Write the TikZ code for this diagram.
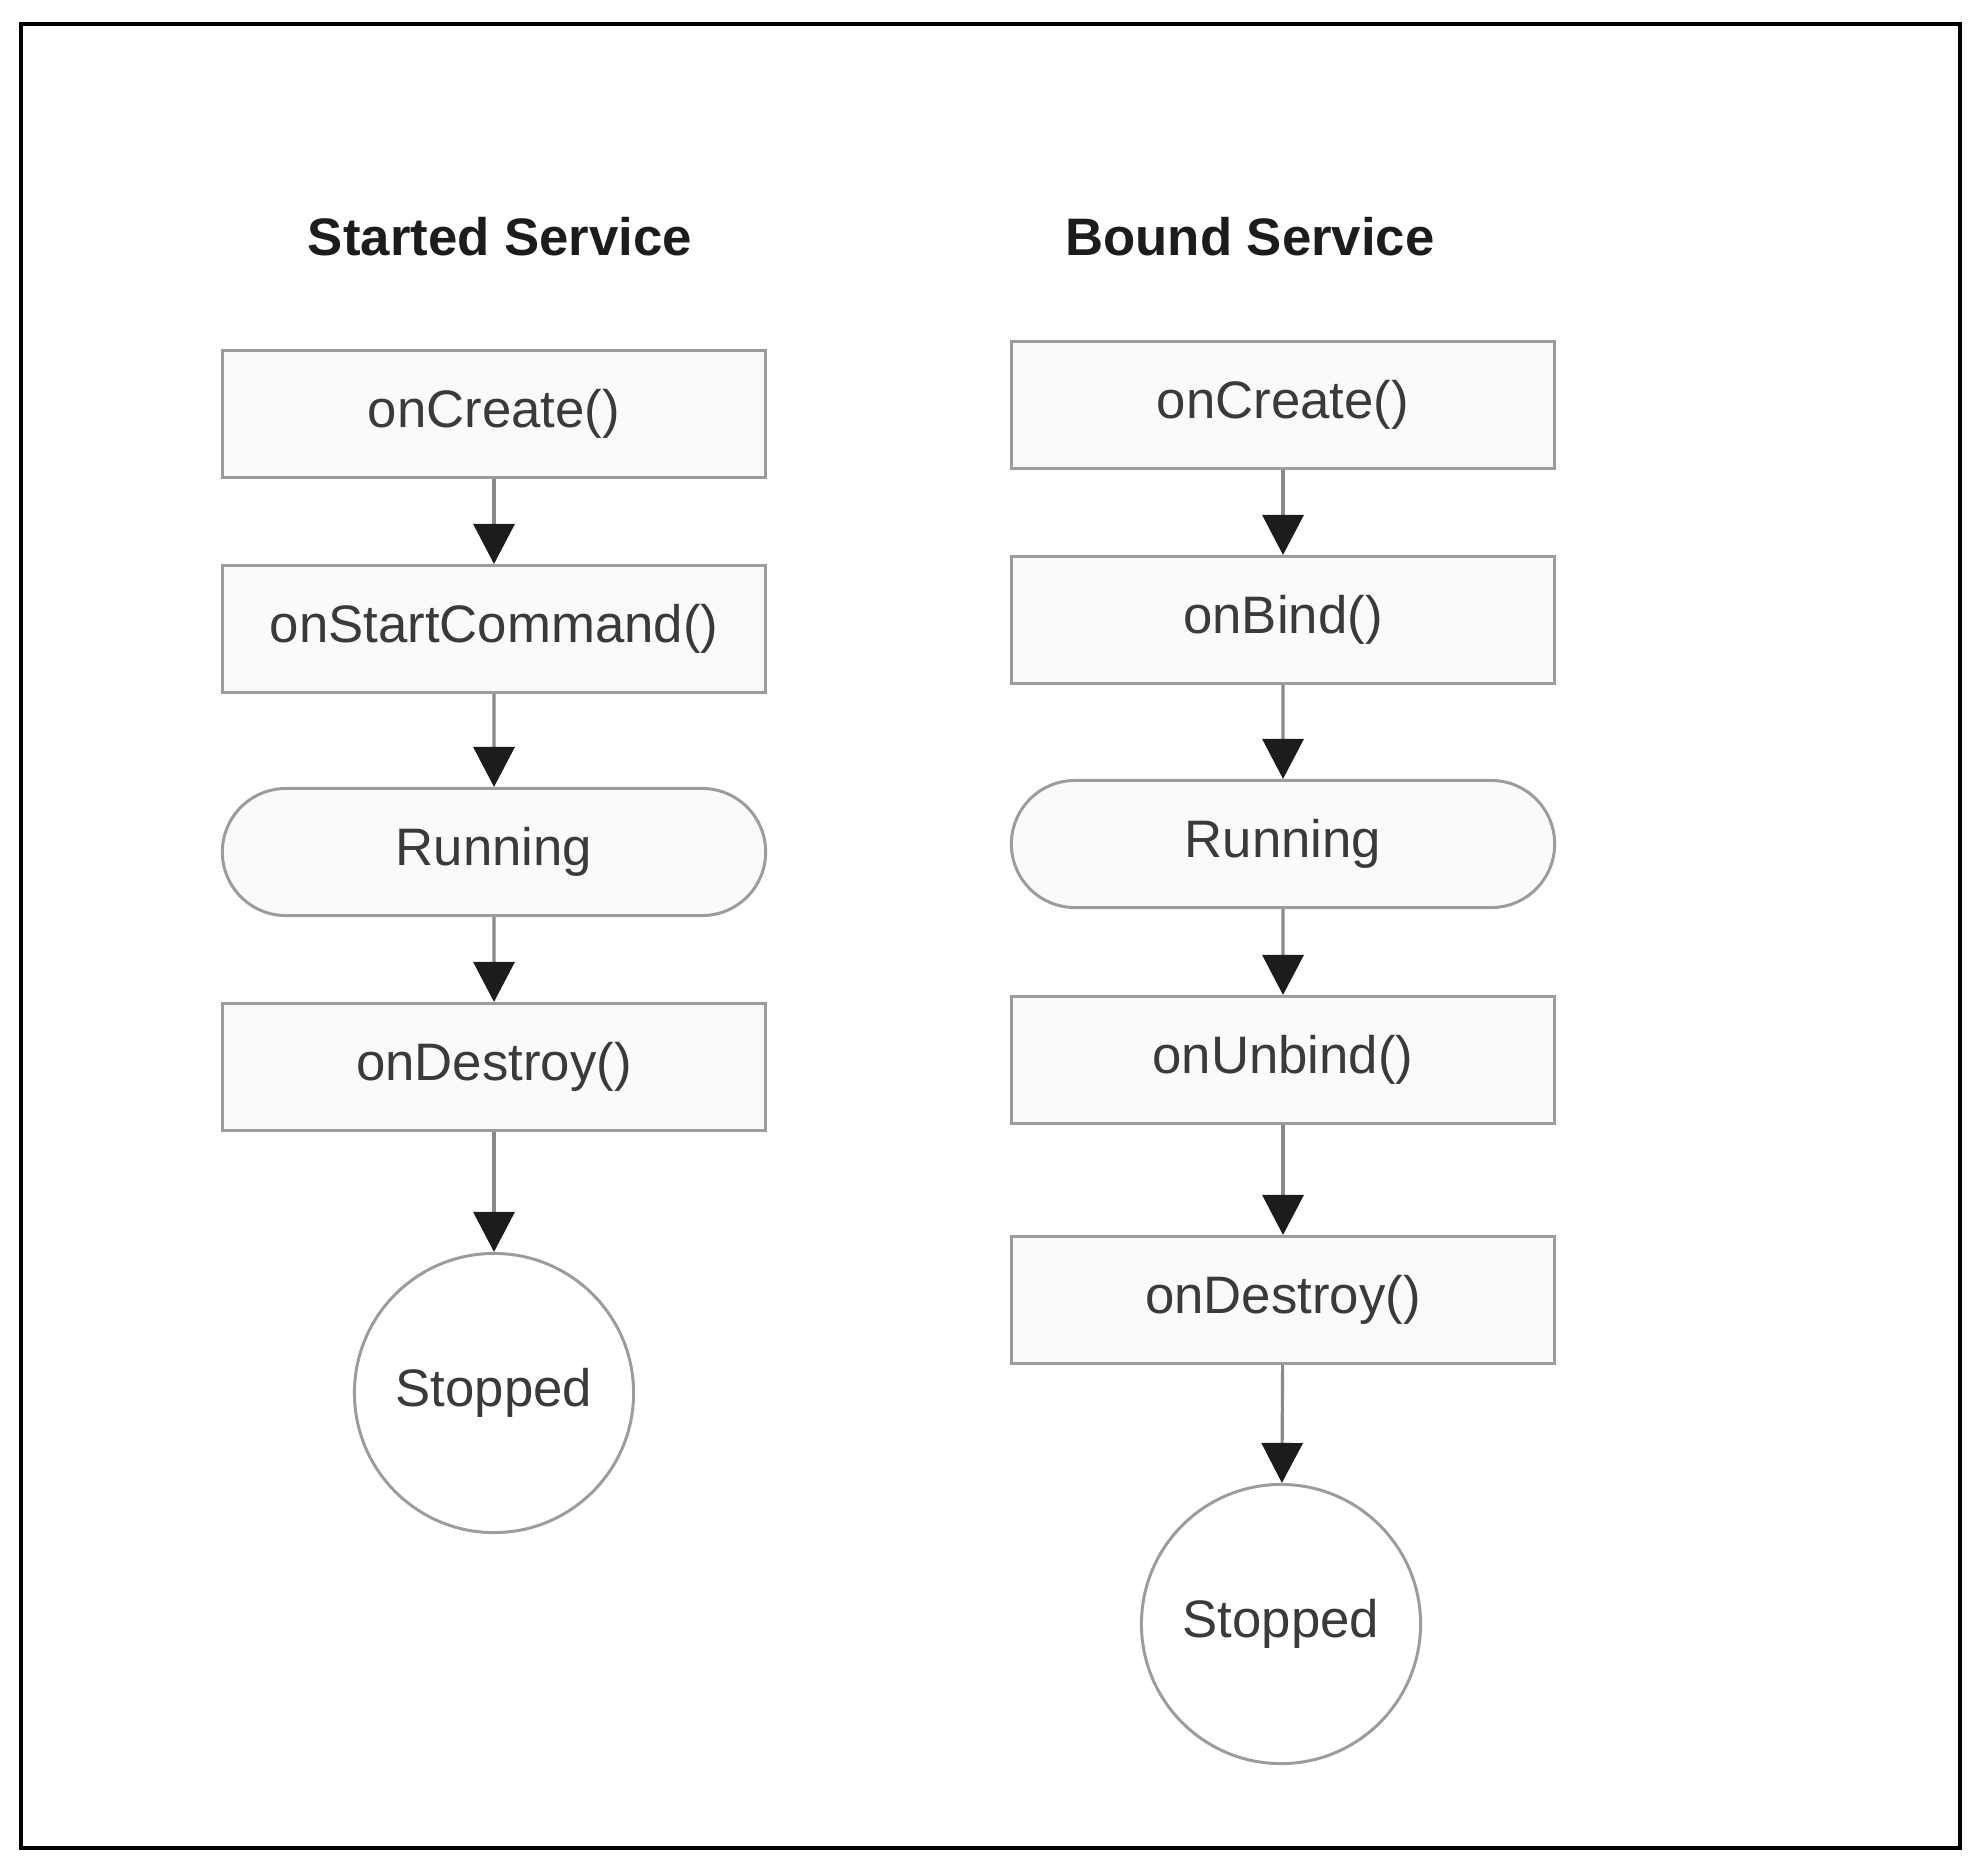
\documentclass[tikz,border=0pt]{standalone}
\usepackage{fontspec}
\setmainfont{Liberation Sans}
\usetikzlibrary{arrows.meta,shapes.misc}
\definecolor{boxfill}{HTML}{FCFAF9}
\definecolor{boxline}{HTML}{9C9C9C}
\definecolor{arrline}{HTML}{8A8A8A}
\definecolor{txt}{HTML}{3A3A3A}
\definecolor{ttl}{HTML}{1C1C1C}
\tikzset{
  stepbox/.style={draw=boxline, fill=boxfill, line width=0.85pt, minimum width=5.43cm,
    minimum height=1.27cm, inner sep=0pt, text=txt, font=\fontsize{15}{18}\selectfont},
  runbox/.style={stepbox, rounded rectangle},
  stopcirc/.style={draw=boxline, fill=white, line width=0.85pt, circle, minimum size=2.79cm,
    inner sep=0pt, text=txt, font=\fontsize{15}{18}\selectfont},
  titletext/.style={text=ttl, font=\fontsize{15}{18}\selectfont\bfseries, inner sep=0pt},
  flow/.style={draw=arrline, line width=0.9pt,
    -{Triangle[width=0.41cm,length=0.40cm,color=ttl,fill=ttl]}, shorten >=0pt}
}
\begin{document}
\begin{tikzpicture}[x=0.01cm,y=-0.01cm]
\useasboundingbox (0,0) rectangle (1986,1870);
\node[draw=black, line width=1pt, minimum width=19.38cm, minimum height=18.23cm, inner sep=0pt, anchor=north west] (frame) at (19,22) {};
% Started Service
\node[titletext] (t1) at (500,237) {Started Service};
\node[stepbox] (l1) at (494,414) {onCreate()};
\node[stepbox] (l2) at (494,629) {onStartCommand()};
\node[runbox] (l3) at (494,852) {Running};
\node[stepbox] (l4) at (494,1067) {onDestroy()};
\node[stopcirc] (l5) at (494,1393) {Stopped};
\draw[flow] (l1) -- (l2);
\draw[flow] (l2) -- (l3);
\draw[flow] (l3) -- (l4);
\draw[flow] (l4) -- (l5);
% Bound Service
\node[titletext] (t2) at (1250,237) {Bound Service};
\node[stepbox] (r1) at (1283,405) {onCreate()};
\node[stepbox] (r2) at (1283,620) {onBind()};
\node[runbox] (r3) at (1283,844) {Running};
\node[stepbox] (r4) at (1283,1060) {onUnbind()};
\node[stepbox] (r5) at (1283,1300) {onDestroy()};
\node[stopcirc] (r6) at (1281,1624) {Stopped};
\draw[flow] (r1) -- (r2);
\draw[flow] (r2) -- (r3);
\draw[flow] (r3) -- (r4);
\draw[flow] (r4) -- (r5);
\draw[flow] (r5) -- (r6);
\end{tikzpicture}
\end{document}
